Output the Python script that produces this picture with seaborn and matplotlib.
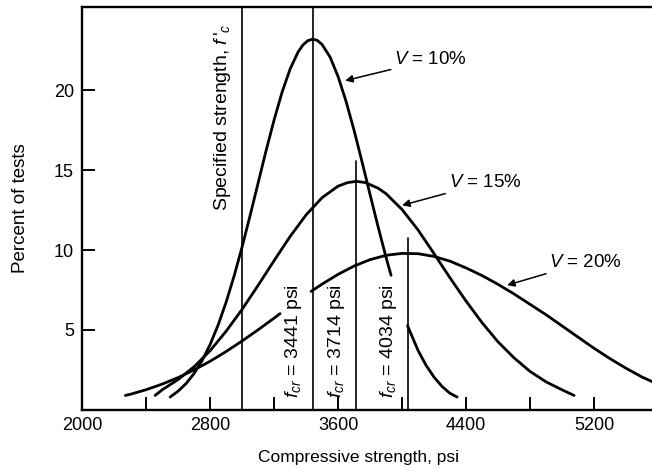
import matplotlib
matplotlib.use('Agg')
import matplotlib.pyplot as plt
import seaborn as sns
import pandas as pd

# curve V = 10 %  (two pieces, gap where the 4034 label sits)
v10_x1 = [2550, 2600, 2650, 2700, 2750, 2800, 2850, 2900, 2950, 3000, 3050, 3100, 3150, 3200,
          3250, 3300, 3350, 3380, 3410, 3441, 3470, 3500, 3550, 3600, 3650, 3700, 3750, 3800,
          3850, 3900, 3931]
v10_y1 = [0.8, 1.17, 1.65, 2.28, 3.09, 4.09, 5.31, 6.74, 8.38, 10.2, 12.17, 14.2, 16.23, 18.15,
          19.89, 21.33, 22.4, 22.83, 23.1, 23.2, 23.12, 22.86, 22.07, 20.85, 19.29, 17.48, 15.5,
          13.46, 11.45, 9.53, 8.42]
v10_x2 = [4034, 4100, 4150, 4200, 4250, 4300, 4344]
v10_y2 = [5.26, 3.71, 2.78, 2.04, 1.46, 1.03, 0.8]

# curve V = 15 %
v15_x = [2456, 2500, 2600, 2700, 2800, 2900, 3000, 3100, 3200, 3300, 3400, 3500, 3600, 3660,
         3714, 3770, 3850, 3900, 4000, 4100, 4200, 4300, 4400, 4500, 4600, 4700, 4800, 4900,
         5000, 5075]
v15_y = [0.9, 1.25, 1.9, 2.7, 3.7, 4.92, 6.29, 7.79, 9.34, 10.85, 12.2, 13.28, 14.0, 14.22,
         14.3, 14.22, 13.87, 13.52, 12.53, 11.25, 9.77, 8.25, 6.8, 5.45, 4.25, 3.25, 2.4, 1.75,
         1.25, 0.9]

# curve V = 20 %  (two pieces, gap where the 3441 label sits)
v20_x1 = [2270, 2300, 2400, 2500, 2600, 2700, 2800, 2900, 3000, 3100, 3200, 3237]
v20_y1 = [0.9, 0.97, 1.26, 1.61, 2.02, 2.5, 3.04, 3.65, 4.31, 5.01, 5.74, 6.02]
v20_x2 = [3431, 3500, 3600, 3700, 3800, 3900, 4000, 4100, 4200, 4300, 4400, 4500, 4600, 4700,
          4800, 4900, 5000, 5100, 5200, 5300, 5400, 5500, 5600]
v20_y2 = [7.41, 7.87, 8.48, 9.0, 9.4, 9.67, 9.79, 9.77, 9.6, 9.3, 8.88, 8.4, 7.85, 7.25,
          6.6, 5.95, 5.25, 4.55, 3.85, 3.2, 2.6, 2.05, 1.6]

# vertical reference lines: x position and top value
ref_x = [3000, 3441, 3714, 4034]
ref_top = [25.2, 25.2, 15.6, 10.75]
fcr_labels = ['3441', '3714', '4034']

sns.set_style('ticks')
plt.rcParams['font.family'] = ['Liberation Sans', 'DejaVu Sans']
plt.rcParams['mathtext.fontset'] = 'custom'
plt.rcParams['mathtext.rm'] = 'Liberation Sans'
plt.rcParams['mathtext.it'] = 'Liberation Sans:italic'
# seaborn makes text dark grey, the book figure is plain black
for k in ['text.color', 'axes.labelcolor', 'xtick.color', 'ytick.color',
          'xtick.labelcolor', 'ytick.labelcolor', 'axes.edgecolor']:
    plt.rcParams[k] = 'black'

fig = plt.figure(figsize=(6.52, 4.76), dpi=100)
ax = fig.add_axes([0.126, 0.139, 0.874, 0.846])

lw = 2.0
for xs, ys in [(v10_x1, v10_y1), (v10_x2, v10_y2), (v15_x, v15_y),
               (v20_x1, v20_y1), (v20_x2, v20_y2)]:
    d = pd.DataFrame({'x': xs, 'y': ys})
    sns.lineplot(data=d, x='x', y='y', ax=ax, color='black', lw=lw, sort=False)

for xv, top in zip(ref_x, ref_top):
    ax.plot([xv, xv], [0, top], color='black', lw=1.2)

ax.set_xlim(2000, 5562)
ax.set_ylim(0, 25.2)
ax.set_xticks([2000, 2800, 3600, 4400, 5200])
ax.set_xticks([2400, 3200, 4000, 4800], minor=True)
ax.set_yticks([5, 10, 15, 20])
ax.tick_params(axis='both', which='both', direction='in', length=9.5, width=1.4,
               labelsize=13, color='black', labelcolor='black')
ax.tick_params(axis='x', pad=5)
ax.tick_params(axis='y', pad=6)
ax.spines['right'].set_visible(False)
for s in ['left', 'bottom', 'top']:
    ax.spines[s].set_linewidth(1.7)
    ax.spines[s].set_color('black')

ax.set_xlabel('Compressive strength, psi', fontsize=12.5)
ax.set_ylabel('Percent of tests', fontsize=13.5)
ax.xaxis.set_label_coords(0.485, -0.10)
ax.yaxis.set_label_coords(-0.093, 0.5)

# rotated labels beside the vertical lines
ax.text(2880, 18.3, "Specified strength, $f\\,'_c$", rotation=90, fontsize=14,
        ha='center', va='center')
for xv, lab in zip([3318, 3592, 3916], fcr_labels):
    ax.text(xv, 0.75, '$f_{cr}$ = ' + lab + ' psi', rotation=90, fontsize=14,
            ha='center', va='bottom')

# V annotations with arrows
arr = dict(arrowstyle='-|>', color='black', lw=1.1, mutation_scale=11, shrinkA=0, shrinkB=0)
ax.annotate('$V$ = 10%', xy=(3644, 20.6), xytext=(3950, 21.9), fontsize=13.5,
            va='center', ha='left', arrowprops=arr)
ax.annotate('$V$ = 15%', xy=(4000, 12.8), xytext=(4290, 14.2), fontsize=13.5,
            va='center', ha='left', arrowprops=arr)
ax.annotate('$V$ = 20%', xy=(4656, 7.8), xytext=(4920, 9.25), fontsize=13.5,
            va='center', ha='left', arrowprops=arr)

fig.savefig('out.png', dpi=100)
